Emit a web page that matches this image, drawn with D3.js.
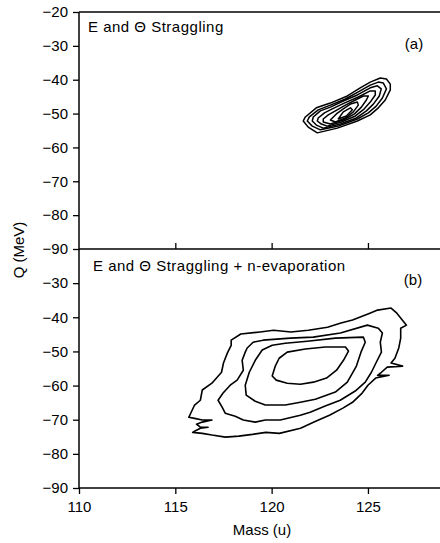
<!DOCTYPE html>
<html>
<head>
<meta charset="utf-8">
<script src="https://cdn.jsdelivr.net/npm/d3@7"></script>
<style>
  body { margin: 0; background: #fff; }
  svg { display: block; }
  text { font-family: "Liberation Sans", Arial, Helvetica, sans-serif; fill: #000; }
</style>
</head>
<body>
<svg id="chart" width="440" height="543"></svg>
<script>
// Axis ticks
const massTicks = [110, 115, 120, 125];
const qTicksTop = [-20, -30, -40, -50, -60, -70, -80, -90];
const qTicksBottom = [-30, -40, -50, -60, -70, -80, -90];

// Panel (a): E and Theta straggling — nested contours, [mass (u), Q (MeV)]
const stragC1 = [[121.75,-51.0],[121.64,-52.2],[121.90,-54.0],[122.37,-55.7],[123.41,-54.3],[124.45,-52.2],[125.12,-50.4],[125.54,-48.3],[125.90,-46.0],[126.16,-43.0],[126.16,-41.3],[125.96,-39.8],[125.64,-39.5],[125.12,-40.7],[124.60,-42.4],[123.93,-44.8],[123.05,-46.9],[122.32,-48.3]];
const stragC2 = [[121.96,-51.0],[121.85,-52.2],[122.11,-53.7],[122.53,-54.8],[123.46,-53.7],[124.45,-51.6],[125.02,-49.8],[125.43,-47.8],[125.75,-45.4],[125.96,-42.7],[125.80,-41.0],[125.54,-40.7],[125.12,-41.6],[124.50,-43.6],[123.83,-45.7],[123.05,-47.5],[122.42,-48.9]];
const stragC3 = [[122.16,-51.0],[122.11,-52.2],[122.32,-53.4],[122.68,-54.3],[123.57,-53.1],[124.40,-51.3],[124.92,-49.2],[125.28,-47.2],[125.59,-44.8],[125.69,-42.7],[125.49,-41.8],[125.12,-42.4],[124.45,-44.5],[123.72,-46.3],[123.05,-48.1],[122.53,-49.2]];
const stragC4 = [[122.42,-51.3],[122.37,-52.2],[122.58,-53.1],[122.89,-53.7],[123.62,-52.5],[124.35,-50.7],[124.81,-48.6],[125.12,-46.6],[125.38,-44.5],[125.38,-43.3],[125.12,-43.3],[124.50,-45.1],[123.77,-46.9],[123.15,-48.6],[122.74,-49.8]];
const stragC5 = [[122.68,-51.6],[122.68,-52.5],[123.05,-53.1],[123.72,-51.9],[124.30,-50.1],[124.66,-48.1],[124.92,-46.0],[125.02,-44.8],[124.76,-44.8],[124.35,-46.0],[123.83,-47.5],[123.31,-49.2],[122.94,-50.4]];
const stragC6 = [[123.05,-51.9],[123.31,-52.5],[123.83,-51.3],[124.24,-49.5],[124.50,-47.5],[124.45,-46.6],[124.09,-47.2],[123.72,-48.6],[123.36,-50.1]];
const stragC7 = [[123.46,-51.6],[123.88,-50.7],[124.19,-48.9],[124.09,-48.3],[123.72,-49.5]];

// Panel (b): straggling + neutron evaporation — four contour levels
const evapOuter = [[118.4,-44.9],[119.4,-44.3],[120.1,-43.8],[121.0,-44.3],[121.9,-43.8],[122.9,-42.9],[123.6,-41.7],[124.2,-40.8],[125.1,-38.8],[125.5,-37.9],[126.2,-37.3],[126.5,-38.8],[127.0,-42.3],[126.7,-43.2],[126.7,-46.1],[126.6,-49.0],[126.4,-52.0],[126.2,-53.4],[126.8,-54.3],[126.0,-54.6],[125.7,-56.1],[125.5,-57.0],[126.1,-57.0],[125.4,-57.8],[125.0,-59.9],[124.7,-62.2],[124.2,-64.9],[123.7,-66.6],[123.0,-68.7],[122.2,-70.7],[121.5,-72.5],[120.4,-74.0],[119.7,-73.7],[119.0,-74.3],[118.3,-74.8],[117.6,-75.1],[116.9,-74.5],[116.4,-74.0],[115.9,-73.7],[116.0,-73.4],[116.3,-72.5],[116.7,-72.2],[116.3,-72.2],[116.1,-71.3],[116.4,-70.7],[116.9,-70.1],[116.4,-70.1],[116.0,-69.6],[115.7,-69.3],[115.8,-68.1],[116.0,-65.7],[116.3,-64.3],[116.4,-61.3],[116.9,-59.3],[117.4,-56.1],[117.5,-53.4],[117.7,-50.5],[117.9,-48.2],[117.9,-46.7]];
const evapSecond = [[118.73,-49.0],[119.04,-47.3],[119.56,-46.7],[120.97,-46.1],[122.16,-45.8],[123.57,-44.6],[124.97,-42.3],[125.54,-43.2],[125.75,-44.6],[125.64,-47.3],[125.70,-50.2],[125.44,-53.1],[125.18,-56.1],[124.86,-59.0],[124.34,-61.6],[123.56,-64.3],[122.78,-66.0],[122.00,-67.8],[121.49,-68.7],[120.45,-70.1],[119.67,-70.1],[119.15,-70.7],[118.53,-70.1],[118.11,-69.0],[117.59,-68.1],[117.43,-66.3],[117.22,-64.3],[117.48,-62.2],[117.85,-59.9],[118.21,-58.4],[118.53,-55.5],[118.47,-52.6],[118.63,-50.2]];
const evapThird = [[120.03,-48.2],[120.71,-47.6],[121.85,-47.0],[123.31,-46.1],[124.76,-45.8],[124.86,-47.3],[124.66,-49.9],[124.40,-54.3],[123.93,-59.0],[123.31,-61.9],[122.27,-64.0],[121.49,-64.9],[120.71,-65.7],[119.67,-65.7],[119.15,-64.6],[118.68,-62.8],[118.63,-59.9],[118.84,-56.1],[119.15,-52.6],[119.51,-49.6]];
const evapInner = [[123.83,-48.7],[123.99,-49.9],[123.73,-52.6],[123.37,-55.5],[122.85,-57.8],[122.17,-59.0],[121.49,-59.6],[120.81,-59.3],[120.24,-58.4],[120.03,-57.2],[120.19,-54.3],[120.39,-52.0],[120.81,-50.2],[121.75,-49.3],[122.79,-48.7]];

const svg = d3.select("#chart");
const left = 79, right = 445;
const topA = 12, bottomA = 249, bottomB = 488;

const x = d3.scaleLinear().domain([110, 129]).range([left, right]);
const yA = d3.scaleLinear().domain([-90, -20]).range([bottomA, topA]);
const yB = d3.scaleLinear().domain([-90, -20]).range([bottomB, bottomA]);

const font = 15;

function styleAxis(g) {
  g.select(".domain").remove();
  g.selectAll(".tick line").attr("stroke", "#000").attr("stroke-width", 1.3);
  g.selectAll(".tick text").attr("font-size", font).attr("font-family", "Liberation Sans, Arial, sans-serif").attr("fill", "#000");
}

// Left axes
svg.append("g").attr("transform", `translate(${left},0)`)
  .call(d3.axisLeft(yA).tickValues(qTicksTop).tickSize(6).tickPadding(5).tickFormat(d3.format("d")))
  .call(styleAxis);
svg.append("g").attr("transform", `translate(${left},0)`)
  .call(d3.axisLeft(yB).tickValues(qTicksBottom).tickSize(6).tickPadding(5).tickFormat(d3.format("d")))
  .call(styleAxis);

// Bottom axis with labels
svg.append("g").attr("transform", `translate(0,${bottomB})`)
  .call(d3.axisBottom(x).tickValues(massTicks).tickSize(6).tickPadding(7).tickFormat(d3.format("d")))
  .call(styleAxis);

// Inward ticks on the shared boundary of the two panels
svg.append("g").attr("transform", `translate(0,${bottomA})`)
  .call(d3.axisBottom(x).tickValues(massTicks.slice(1)).tickSize(-6).tickFormat(""))
  .call(styleAxis);

// Frame lines
const frame = svg.append("g").attr("stroke", "#000").attr("stroke-width", 1.5);
frame.append("line").attr("x1", left).attr("x2", left).attr("y1", topA).attr("y2", bottomB);
frame.append("line").attr("x1", left).attr("x2", 440).attr("y1", topA).attr("y2", topA);
frame.append("line").attr("x1", left).attr("x2", 440).attr("y1", bottomA).attr("y2", bottomA);
frame.append("line").attr("x1", left).attr("x2", 440).attr("y1", bottomB).attr("y2", bottomB);

// Contours
const lineA = d3.line().x(d => x(d[0])).y(d => yA(d[1])).curve(d3.curveLinearClosed);
const lineB = d3.line().x(d => x(d[0])).y(d => yB(d[1])).curve(d3.curveLinearClosed);

svg.append("g").selectAll("path")
  .data([stragC1, stragC2, stragC3, stragC4, stragC5, stragC6, stragC7])
  .join("path")
  .attr("d", lineA)
  .attr("fill", "none").attr("stroke", "#000").attr("stroke-width", 1.5)
  .attr("stroke-linejoin", "round");

svg.append("g").selectAll("path")
  .data([evapOuter, evapSecond, evapThird, evapInner])
  .join("path")
  .attr("d", lineB)
  .attr("fill", "none").attr("stroke", "#000").attr("stroke-width", 1.6)
  .attr("stroke-linejoin", "round");

// Panel captions
svg.append("text").attr("x", 88).attr("y", 32).attr("font-size", font)
  .attr("letter-spacing", 0.5).text("E and \u0398 Straggling");
svg.append("text").attr("x", 93).attr("y", 271).attr("font-size", font)
  .attr("letter-spacing", 0.5).text("E and \u0398 Straggling + n-evaporation");
svg.append("text").attr("x", 414).attr("y", 49).attr("font-size", font)
  .attr("text-anchor", "middle").text("(a)");
svg.append("text").attr("x", 413).attr("y", 285).attr("font-size", font)
  .attr("text-anchor", "middle").text("(b)");

// Axis titles
svg.append("text").attr("x", 262).attr("y", 535).attr("font-size", font)
  .attr("text-anchor", "middle").text("Mass (u)");
svg.append("text").attr("transform", "translate(24,250) rotate(-90)")
  .attr("font-size", font).attr("text-anchor", "middle").text("Q (MeV)");
</script>
</body>
</html>
